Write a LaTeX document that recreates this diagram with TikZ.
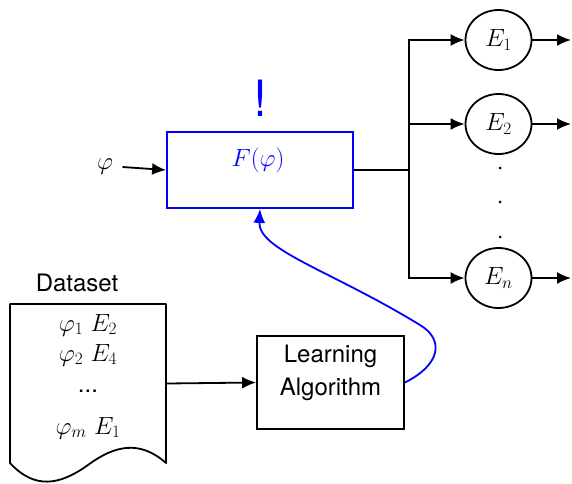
\documentclass[tikz,border=0pt]{standalone}
\usepackage{fontspec}
\setsansfont{TeX Gyre Heros}
\usetikzlibrary{arrows.meta,shapes.geometric}
\begin{document}
\begin{tikzpicture}[x=1pt,y=-1pt,
  every node/.style={font=\fontsize{24}{33}\selectfont},
  ln/.style={line width=1.8pt},
  tip/.style={-{Latex[length=14pt,width=12pt]}},
  arr/.style={ln,tip},
  circ/.style={ellipse,draw,line width=1.8pt,minimum width=66pt,minimum height=60pt,inner sep=0pt},
  dotn/.style={circle,fill,inner sep=0pt,minimum size=3pt}]
\useasboundingbox (0,0) rectangle (572,483);
% function box
\node[draw=blue,line width=1.8pt,minimum width=186pt,minimum height=76pt,inner sep=0pt] (F) at (260,170) {};
\node[text=blue] (Ft) at (258,160) {$F(\varphi)$};
\node[text=blue,font=\sffamily\fontsize{50}{50}\selectfont] (ex) at (260,98) {!};
\node (phi) at (105,167) {$\varphi$};
\draw[arr] (phi.east) ++(6pt,0) coordinate (phis) (phis) -- (F.west);
% outputs
\coordinate (j) at (409,170);
\node[circ] (E1) at (498.5,40) {$E_1$};
\node[circ] (E2) at (498.5,124) {$E_2$};
\node[circ] (En) at (498.5,278) {$E_n$};
\draw[ln] (F.east) -- (j);
\draw[arr] (j) |- (E1.west);
\draw[arr] (j) |- (E2.west);
\draw[arr] (j) |- (En.west);
\coordinate (o1) at (571,40);
\coordinate (o2) at (571,124);
\coordinate (on) at (571,278);
\draw[arr] (E1.east) -- (o1);
\draw[arr] (E2.east) -- (o2);
\draw[arr] (En.east) -- (on);
\node[dotn] (d1) at (500,168) {};
\node[dotn] (d2) at (500,202) {};
\node[dotn] (d3) at (500,237) {};
% dataset
\node[font=\sffamily\fontsize{24}{28}\selectfont] (dl) at (77,283) {Dataset};
\node[minimum width=156pt,minimum height=159pt,inner sep=0pt] (D) at (88,383.5) {};
\draw[ln,line join=round] (10,304) -- (166,304) -- (166,463)
  .. controls (140,440) and (115,445) .. (88,465)
  .. controls (60,485) and (35,490) .. (10,463) -- cycle;
\node (r1) at (88,325) {$\varphi_1\ E_2$};
\node (r2) at (88,355) {$\varphi_2\ E_4$};
\node[font=\sffamily\fontsize{24}{28}\selectfont] (r3) at (88,391) {...};
\node (r4) at (88,428) {$\varphi_m\ E_1$};
% learning
\node[draw,line width=1.8pt,minimum width=147pt,minimum height=93pt,inner sep=0pt] (L) at (330.5,382.5) {};
\node[font=\sffamily\fontsize{24}{33}\selectfont,align=center] (Lt) at (330.5,373) {Learning\\Algorithm};
\draw[arr] (D.east) -- (L.west);
\draw[ln,blue,tip] (L.east)
  .. controls (440,365) and (445,340) .. (420,325)
  .. controls (330,270) and (258,250) .. (F.south);
\end{tikzpicture}
\end{document}
